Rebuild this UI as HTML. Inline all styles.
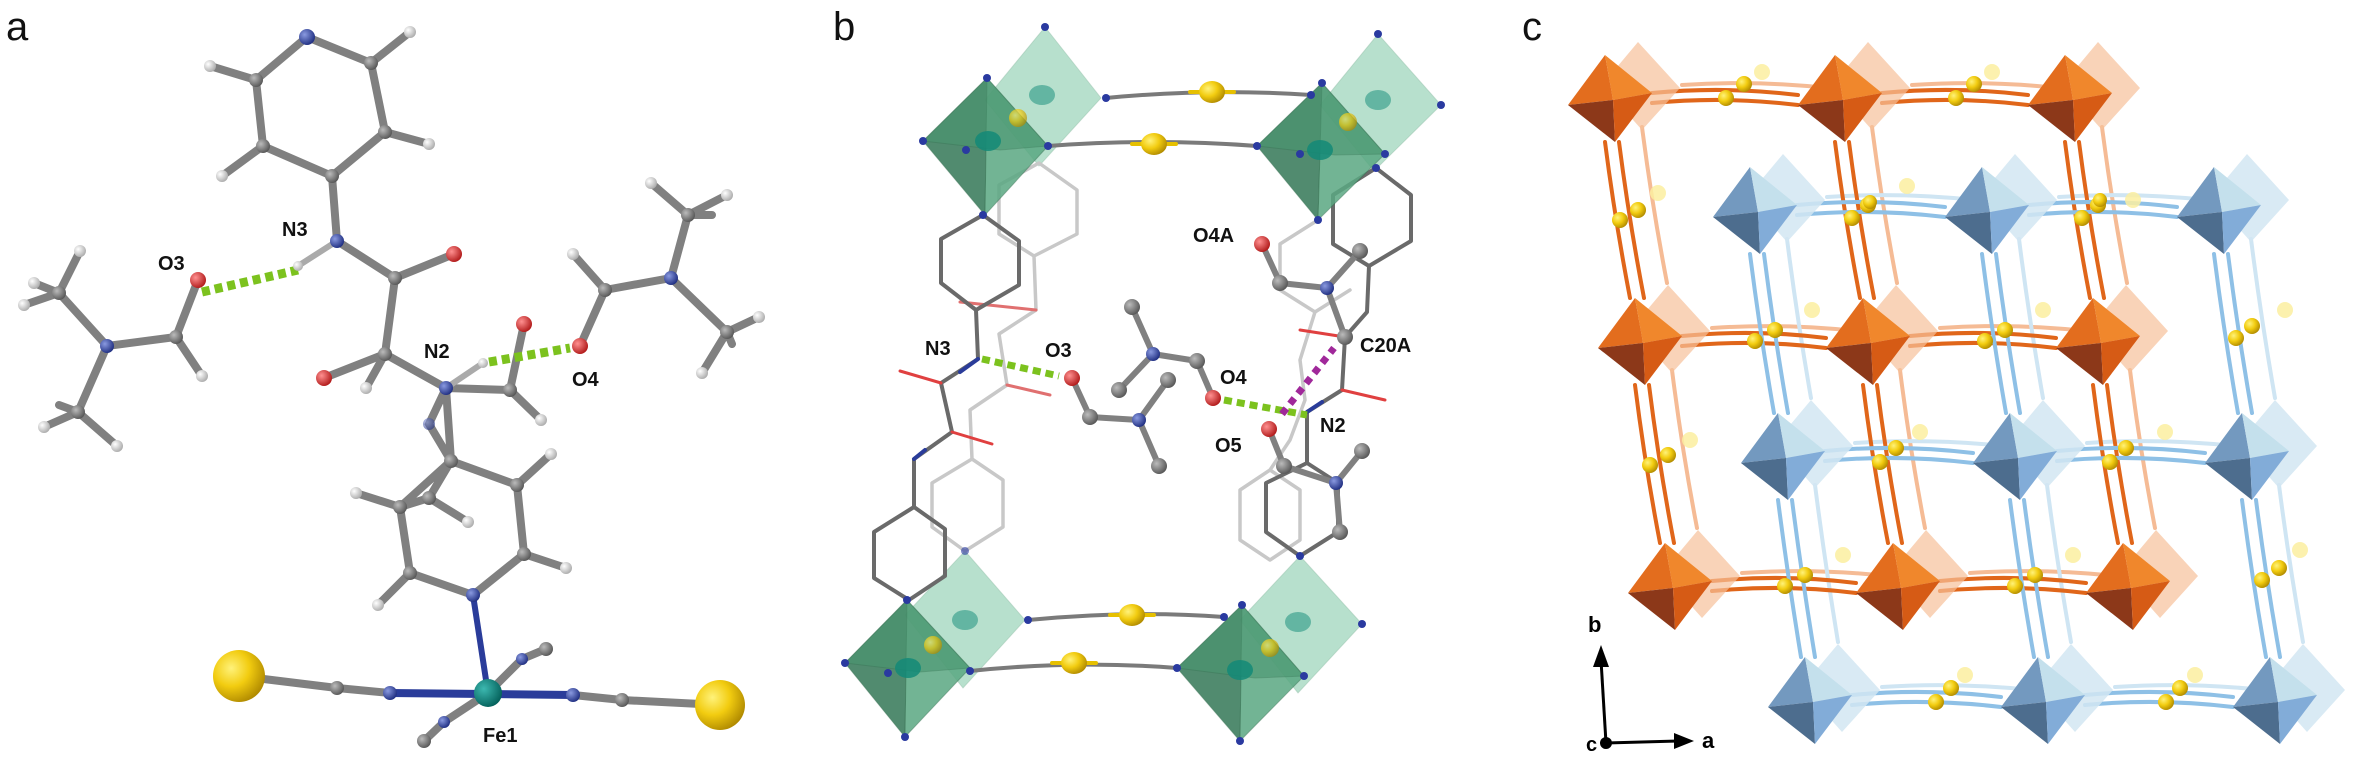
<!DOCTYPE html>
<html><head><meta charset="utf-8"><style>
html,body{margin:0;padding:0;background:#fff;}
svg{display:block;}
text{font-family:"Liberation Sans",sans-serif;}
.lbl{font-weight:bold;font-size:20px;fill:#111;}
.pl{font-size:40px;fill:#111;}
</style></head><body>
<svg width="2363" height="766" viewBox="0 0 2363 766" xmlns="http://www.w3.org/2000/svg">
<defs>
<radialGradient id="gS" cx="35%" cy="35%" r="70%"><stop offset="0" stop-color="#fff27a"/><stop offset="0.5" stop-color="#f2cc10"/><stop offset="1" stop-color="#b08a00"/></radialGradient>
<radialGradient id="gC" cx="35%" cy="35%" r="70%"><stop offset="0" stop-color="#bbb"/><stop offset="1" stop-color="#555"/></radialGradient>
<radialGradient id="gN" cx="35%" cy="35%" r="70%"><stop offset="0" stop-color="#8a9ae0"/><stop offset="1" stop-color="#1e2d80"/></radialGradient>
<radialGradient id="gO" cx="35%" cy="35%" r="70%"><stop offset="0" stop-color="#ff9090"/><stop offset="1" stop-color="#b01818"/></radialGradient>
<radialGradient id="gH" cx="35%" cy="35%" r="70%"><stop offset="0" stop-color="#fff"/><stop offset="1" stop-color="#aaa"/></radialGradient>
<radialGradient id="gFe" cx="35%" cy="35%" r="70%"><stop offset="0" stop-color="#3cb8b0"/><stop offset="1" stop-color="#04605a"/></radialGradient>
<g id="oo">
<polygon points="28,-58 70,-12 32,30 -8,-15" fill="#f6c09a" opacity="0.7"/>
<polygon points="-5,-45 -42,5 3,0" fill="#e36d1e"/>
<polygon points="-5,-45 3,0 42,-7" fill="#f0872c"/>
<polygon points="-42,5 5,42 3,0" fill="#8c3819"/>
<polygon points="3,0 5,42 42,-7" fill="#d65b15"/>
</g>
<g id="bo">
<polygon points="28,-58 70,-12 32,30 -8,-15" fill="#d2e6f2" opacity="0.85"/>
<polygon points="-5,-45 -42,5 3,0" fill="#7399bf"/>
<polygon points="-5,-45 3,0 42,-7" fill="#c4e0ec"/>
<polygon points="-42,5 5,42 3,0" fill="#4d6d8e"/>
<polygon points="3,0 5,42 42,-7" fill="#82acd8"/>
</g>
</defs>

<!-- ============ PANEL A ============ -->
<text class="pl" x="6" y="40">a</text>
<g stroke-linecap="round" fill="none">
<g stroke="#808080" stroke-width="8">
<path d="M307,37 L371,63 L385,132 L332,176 L263,146 L256,80 Z"/>
<path d="M371,63 L410,32 M385,132 L429,144 M263,146 L222,176 M256,80 L210,66"/>
<path d="M332,176 L337,241"/>
<path d="M337,241 L395,278 L454,254 M395,278 L385,354 L324,378 M385,354 L446,388"/>
<path d="M198,280 L176,337 L107,346 L59,293 M107,346 L78,412 M176,337 L202,376"/>
<path d="M59,293 L24,305 M59,293 L80,251 M59,293 L34,283 M78,412 L44,427 M78,412 L117,446 M78,412 L59,405"/>
<path d="M580,346 L605,290 L671,278 L688,215 M671,278 L727,332 M605,290 L573,254"/>
<path d="M688,215 L651,183 M688,215 L727,195 M688,215 L712,215 M727,332 L759,317 M727,332 L702,373 M727,332 L732,344"/>
<path d="M446,388 L510,390 L541,420 M510,390 L524,324 M446,388 L429,424 L451,461 M446,388 L451,461"/>
<path d="M451,461 L517,485 L524,554 L473,595 L410,573 L400,507 Z M451,461 L429,498 L400,507 M517,485 L551,454 M524,554 L566,568 M410,573 L378,605 M400,507 L356,493 M429,498 L468,522 M385,354 L366,388"/>
<path d="M239,676 L337,688 L390,693 M573,695 L622,700 L720,705 M488,693 L522,659 L546,649 M488,693 L444,722 L424,741"/>
</g>
<path d="M337,241 L298,266 M446,388 L483,363" stroke="#aaa" stroke-width="6"/>
<path d="M473,595 L488,693" stroke="#2a3c9a" stroke-width="6"/>
<path d="M390,693 L573,695" stroke="#2a3c9a" stroke-width="8"/>
<path d="M202,292 L298,270" stroke="#7cc21e" stroke-width="9" stroke-dasharray="8,5" stroke-linecap="butt"/>
<path d="M489,362 L570,348" stroke="#7cc21e" stroke-width="9" stroke-dasharray="8,5" stroke-linecap="butt"/>
</g>
<g>
<g fill="url(#gH)">
<circle cx="410" cy="32" r="6"/><circle cx="429" cy="144" r="6"/><circle cx="222" cy="176" r="6"/><circle cx="210" cy="66" r="6"/>
<circle cx="24" cy="305" r="6"/><circle cx="80" cy="251" r="6"/><circle cx="34" cy="283" r="6"/><circle cx="44" cy="427" r="6"/><circle cx="117" cy="446" r="6"/><circle cx="202" cy="376" r="6"/>
<circle cx="651" cy="183" r="6"/><circle cx="727" cy="195" r="6"/><circle cx="759" cy="317" r="6"/><circle cx="702" cy="373" r="6"/><circle cx="573" cy="254" r="6"/>
<circle cx="541" cy="420" r="6"/><circle cx="551" cy="454" r="6"/><circle cx="566" cy="568" r="6"/><circle cx="378" cy="605" r="6"/><circle cx="356" cy="493" r="6"/><circle cx="468" cy="522" r="6"/><circle cx="366" cy="388" r="6"/><circle cx="298" cy="266" r="5"/><circle cx="483" cy="363" r="5"/>
</g>
<g fill="url(#gC)">
<circle cx="371" cy="63" r="7"/><circle cx="385" cy="132" r="7"/><circle cx="332" cy="176" r="7"/><circle cx="263" cy="146" r="7"/><circle cx="256" cy="80" r="7"/>
<circle cx="395" cy="278" r="7"/><circle cx="385" cy="354" r="7"/><circle cx="176" cy="337" r="7"/><circle cx="59" cy="293" r="7"/><circle cx="78" cy="412" r="7"/>
<circle cx="605" cy="290" r="7"/><circle cx="688" cy="215" r="7"/><circle cx="727" cy="332" r="7"/><circle cx="510" cy="390" r="7"/>
<circle cx="451" cy="461" r="7"/><circle cx="517" cy="485" r="7"/><circle cx="524" cy="554" r="7"/><circle cx="410" cy="573" r="7"/><circle cx="400" cy="507" r="7"/><circle cx="429" cy="498" r="7"/>
<circle cx="337" cy="688" r="7"/><circle cx="622" cy="700" r="7"/><circle cx="546" cy="649" r="7"/><circle cx="424" cy="741" r="7"/>
</g>
<g fill="url(#gN)">
<circle cx="307" cy="37" r="8"/><circle cx="337" cy="241" r="7"/><circle cx="446" cy="388" r="7"/><circle cx="107" cy="346" r="7"/><circle cx="671" cy="278" r="7"/><circle cx="473" cy="595" r="7"/><circle cx="429" cy="424" r="6" opacity="0.6"/>
<circle cx="390" cy="693" r="7"/><circle cx="573" cy="695" r="7"/><circle cx="522" cy="659" r="6"/><circle cx="444" cy="722" r="6"/>
</g>
<g fill="url(#gO)">
<circle cx="198" cy="280" r="8"/><circle cx="454" cy="254" r="8"/><circle cx="324" cy="378" r="8"/><circle cx="580" cy="346" r="8"/><circle cx="524" cy="324" r="8"/>
</g>
<circle cx="488" cy="693" r="14" fill="url(#gFe)"/>
<circle cx="239" cy="676" r="26" fill="url(#gS)"/>
<circle cx="720" cy="705" r="25" fill="url(#gS)"/>
</g>
<text class="lbl" x="282" y="236">N3</text>
<text class="lbl" x="158" y="270">O3</text>
<text class="lbl" x="424" y="358">N2</text>
<text class="lbl" x="572" y="386">O4</text>
<text class="lbl" x="483" y="742">Fe1</text>

<!-- ============ PANEL B ============ -->
<text class="pl" x="833" y="40">b</text>
<g stroke="#5a9a7a" stroke-width="1" stroke-opacity="0.4">
<polygon points="1045,27 1101,98 1039,166 985,100" fill="#9ad4b8" opacity="0.7"/>
<polygon points="1378,34 1441,105 1374,171 1320,105" fill="#9ad4b8" opacity="0.7"/>
<polygon points="965,551 1025,620 963,688 905,615" fill="#9ad4b8" opacity="0.7"/>
<polygon points="1300,556 1362,624 1298,693 1240,620" fill="#9ad4b8" opacity="0.7"/>
</g>
<g fill="none" stroke-linecap="round" stroke-linejoin="round">
<g stroke="#c8c8c8" stroke-width="3.5">
<path d="M1039,163 L999,185 L999,234 L1034,256 L1077,234 L1077,190 Z M1034,256 L1036,310 L999,334 L1007,385 L970,410 L972,459 M972,459 L932,483 L932,527 L965,551 L1003,527 L1003,480 Z"/>
<path d="M1318,220 L1280,244 L1280,290 L1315,312 L1350,290 M1315,312 L1300,360 L1305,400 L1290,440 L1270,470 L1240,490 L1240,540 L1270,560 L1300,540 L1300,490 L1270,470"/>
</g>
<g stroke="#e07070" stroke-width="3"><path d="M1007,385 L1050,395 M1036,310 L960,302"/></g>
<g stroke="#6a6a6a" stroke-width="4">
<path d="M983,215 L941,239 L941,283 L976,310 L1019,285 L1019,241 Z M976,310 L978,359 L941,383 L952,432 L914,459 L914,507 M914,507 L874,532 L874,578 L909,600 L945,576 L945,529 Z"/>
<path d="M1376,168 L1333,195 L1333,244 L1369,266 L1411,241 L1411,195 Z M1369,266 L1367,312 L1345,337 L1342,390 L1307,412 L1307,463 M1307,463 L1266,483 L1266,532 L1300,556 L1338,532 L1338,483 Z"/>
</g>
<g stroke="#e04040" stroke-width="3"><path d="M941,383 L900,371 M952,432 L992,444 M1342,390 L1385,400 M1345,337 L1300,330"/></g>
<g stroke="#2a3c9a" stroke-width="4"><path d="M978,359 L960,372 M914,459 L925,450 M1307,412 L1322,402"/></g>
<g stroke="#7a7a7a" stroke-width="4">
<path d="M1106,98 Q1210,88 1311,95 M1048,146 Q1154,138 1257,146 M1028,620 Q1132,610 1224,617 M970,671 Q1074,660 1177,668"/>
</g>
<g stroke="#e6c000" stroke-width="4"><path d="M1190,92 L1234,92 M1132,144 L1176,144 M1110,615 L1154,615 M1052,663 L1096,663"/></g>
<g stroke="#808080" stroke-width="6">
<path d="M1132,307 L1153,354 L1197,361 L1213,398 M1153,354 L1119,390"/>
<path d="M1072,378 L1090,417 L1139,420 L1168,380 M1139,420 L1159,466"/>
<path d="M1262,244 L1280,283 L1327,288 L1360,251 M1327,288 L1345,337"/>
<path d="M1269,429 L1284,466 L1336,483 L1362,451 M1336,483 L1340,532"/>
</g>
</g>
<g fill="none" stroke-linecap="butt">
<path d="M982,359 L1059,376" stroke="#7cc21e" stroke-width="7" stroke-dasharray="8,5"/>
<path d="M1224,400 L1307,415" stroke="#7cc21e" stroke-width="7" stroke-dasharray="8,5"/>
<path d="M1282,414 L1334,348" stroke="#a0289a" stroke-width="7" stroke-dasharray="7,6"/>
</g>
<g stroke="#2e6a4a" stroke-width="1" stroke-opacity="0.5">
<polygon points="987,78 923,141 985,215" fill="#3f7f60" opacity="0.9"/><polygon points="987,78 1048,146 985,215" fill="#5aa882" opacity="0.85"/><polygon points="987,78 923,141 1000,150 1048,146" fill="#4a9670" opacity="0.6"/>
<polygon points="1322,83 1257,146 1318,220" fill="#3f7f60" opacity="0.9"/><polygon points="1322,83 1385,154 1318,220" fill="#5aa882" opacity="0.85"/><polygon points="1322,83 1257,146 1335,155 1385,154" fill="#4a9670" opacity="0.6"/>
<polygon points="907,600 845,663 905,737" fill="#3f7f60" opacity="0.9"/><polygon points="907,600 970,668 905,737" fill="#5aa882" opacity="0.85"/><polygon points="907,600 845,663 920,672 970,668" fill="#4a9670" opacity="0.6"/>
<polygon points="1242,605 1177,668 1240,741" fill="#3f7f60" opacity="0.9"/><polygon points="1242,605 1304,676 1240,741" fill="#5aa882" opacity="0.85"/><polygon points="1242,605 1177,668 1255,678 1304,676" fill="#4a9670" opacity="0.6"/>
</g>
<g fill="#138a78" opacity="0.85">
<ellipse cx="988" cy="141" rx="13" ry="10"/><ellipse cx="1042" cy="95" rx="13" ry="10" opacity="0.6"/><ellipse cx="1320" cy="150" rx="13" ry="10"/><ellipse cx="1378" cy="100" rx="13" ry="10" opacity="0.6"/>
<ellipse cx="908" cy="668" rx="13" ry="10"/><ellipse cx="965" cy="620" rx="13" ry="10" opacity="0.6"/><ellipse cx="1240" cy="670" rx="13" ry="10"/><ellipse cx="1298" cy="622" rx="13" ry="10" opacity="0.6"/>
</g>
<g fill="url(#gS)">
<ellipse cx="1212" cy="92" rx="13" ry="11"/><ellipse cx="1154" cy="144" rx="13" ry="11"/><ellipse cx="1132" cy="615" rx="13" ry="11"/><ellipse cx="1074" cy="663" rx="13" ry="11"/>
<circle cx="1018" cy="118" r="9" opacity="0.7"/><circle cx="1348" cy="122" r="9" opacity="0.7"/><circle cx="933" cy="645" r="9" opacity="0.7"/><circle cx="1270" cy="648" r="9" opacity="0.7"/>
</g>
<g fill="#2a3aa0">
<circle cx="1045" cy="27" r="4"/><circle cx="1378" cy="34" r="4"/><circle cx="987" cy="78" r="4"/><circle cx="1322" cy="83" r="4"/><circle cx="923" cy="141" r="4"/><circle cx="966" cy="150" r="4"/><circle cx="1106" cy="98" r="4"/><circle cx="1048" cy="146" r="4"/><circle cx="983" cy="215" r="4"/>
<circle cx="1311" cy="95" r="4"/><circle cx="1257" cy="146" r="4"/><circle cx="1441" cy="105" r="4"/><circle cx="1300" cy="154" r="4"/><circle cx="1385" cy="154" r="4"/><circle cx="1318" cy="220" r="4"/><circle cx="1376" cy="168" r="4"/>
<circle cx="1028" cy="620" r="4"/><circle cx="970" cy="671" r="4"/><circle cx="845" cy="663" r="4"/><circle cx="905" cy="737" r="4"/><circle cx="888" cy="673" r="4"/><circle cx="907" cy="600" r="4"/><circle cx="965" cy="551" r="4" opacity="0.6"/>
<circle cx="1224" cy="617" r="4"/><circle cx="1177" cy="668" r="4"/><circle cx="1362" cy="624" r="4"/><circle cx="1240" cy="741" r="4"/><circle cx="1304" cy="676" r="4"/><circle cx="1242" cy="605" r="4"/><circle cx="1300" cy="556" r="4"/>
</g>
<g fill="url(#gC)">
<circle cx="1132" cy="307" r="8"/><circle cx="1197" cy="361" r="8"/><circle cx="1119" cy="390" r="8"/><circle cx="1090" cy="417" r="8"/><circle cx="1168" cy="380" r="8"/><circle cx="1159" cy="466" r="8"/>
<circle cx="1280" cy="283" r="8"/><circle cx="1360" cy="251" r="8"/><circle cx="1345" cy="337" r="8"/><circle cx="1284" cy="466" r="8"/><circle cx="1362" cy="451" r="8"/><circle cx="1340" cy="532" r="8"/>
</g>
<g fill="url(#gN)"><circle cx="1153" cy="354" r="7"/><circle cx="1139" cy="420" r="7"/><circle cx="1327" cy="288" r="7"/><circle cx="1336" cy="483" r="7"/></g>
<g fill="url(#gO)"><circle cx="1213" cy="398" r="8"/><circle cx="1072" cy="378" r="8"/><circle cx="1262" cy="244" r="8"/><circle cx="1269" cy="429" r="8"/></g>
<text class="lbl" x="925" y="355">N3</text>
<text class="lbl" x="1045" y="357">O3</text>
<text class="lbl" x="1193" y="242">O4A</text>
<text class="lbl" x="1360" y="352">C20A</text>
<text class="lbl" x="1220" y="384">O4</text>
<text class="lbl" x="1320" y="432">N2</text>
<text class="lbl" x="1215" y="452">O5</text>

<!-- ============ PANEL C ============ -->
<text class="pl" x="1522" y="40">c</text>
<g fill="none" stroke-linecap="round">
<g stroke="#f5bb95" stroke-width="4">
<path d="M1682,85 Q1755,80 1828,88 M1912,85 Q1985,80 2058,88 M1712,328 Q1785,323 1856,331 M1940,328 Q2013,323 2086,331 M1742,573 Q1815,568 1886,576 M1970,573 Q2043,568 2116,576"/>
<path d="M1642,127 Q1652,205 1667,283 M1872,127 Q1882,205 1897,283 M2102,127 Q2112,205 2127,283 M1672,370 Q1682,450 1697,528 M1900,370 Q1910,450 1925,528 M2130,370 Q2140,450 2155,528"/>
</g>
<g stroke="#cfe5f3" stroke-width="4">
<path d="M1827,197 Q1900,192 1975,200 M2059,197 Q2132,192 2207,200 M1855,443 Q1928,438 2003,446 M2087,443 Q2160,438 2235,446 M1882,687 Q1955,682 2031,690 M2115,687 Q2188,682 2263,690"/>
<path d="M1787,239 Q1797,318 1811,398 M2019,239 Q2029,318 2043,398 M2251,239 Q2261,318 2275,398 M1815,485 Q1825,563 1838,642 M2047,485 Q2057,563 2071,642 M2279,485 Q2289,563 2303,642"/>
</g>
<g stroke="#e0661a" stroke-width="4">
<path d="M1652,93 Q1725,86 1798,95 M1652,103 Q1725,96 1798,105 M1882,93 Q1955,86 2028,95 M1882,103 Q1955,96 2028,105"/>
<path d="M1682,336 Q1755,329 1826,338 M1682,346 Q1755,339 1826,348 M1910,336 Q1983,329 2056,338 M1910,346 Q1983,339 2056,348"/>
<path d="M1712,581 Q1785,574 1856,583 M1712,591 Q1785,584 1856,593 M1940,581 Q2013,574 2086,583 M1940,591 Q2013,584 2086,593"/>
<path d="M1605,142 Q1615,220 1630,298 M1619,142 Q1629,220 1644,298 M1835,142 Q1845,220 1860,298 M1849,142 Q1859,220 1874,298 M2065,142 Q2075,220 2090,298 M2079,142 Q2089,220 2104,298"/>
<path d="M1635,385 Q1645,465 1660,543 M1649,385 Q1659,465 1674,543 M1863,385 Q1873,465 1888,543 M1877,385 Q1887,465 1902,543 M2093,385 Q2103,465 2118,543 M2107,385 Q2117,465 2132,543"/>
</g>
<g stroke="#8ec0e6" stroke-width="4">
<path d="M1797,205 Q1870,198 1945,207 M1797,215 Q1870,208 1945,217 M2029,205 Q2102,198 2177,207 M2029,215 Q2102,208 2177,217"/>
<path d="M1825,451 Q1898,444 1973,453 M1825,461 Q1898,454 1973,463 M2057,451 Q2130,444 2205,453 M2057,461 Q2130,454 2205,463"/>
<path d="M1852,695 Q1925,688 2001,697 M1852,705 Q1925,698 2001,707 M2085,695 Q2158,688 2233,697 M2085,705 Q2158,698 2233,707"/>
<path d="M1750,254 Q1760,333 1774,413 M1764,254 Q1774,333 1788,413 M1982,254 Q1992,333 2006,413 M1996,254 Q2006,333 2020,413 M2214,254 Q2224,333 2238,413 M2228,254 Q2238,333 2252,413"/>
<path d="M1778,500 Q1788,578 1801,657 M1792,500 Q1802,578 1815,657 M2010,500 Q2020,578 2034,657 M2024,500 Q2034,578 2048,657 M2242,500 Q2252,578 2266,657 M2256,500 Q2266,578 2280,657"/>
</g>
</g>
<use href="#oo" x="1610" y="100"/><use href="#oo" x="1840" y="100"/><use href="#oo" x="2070" y="100"/>
<use href="#oo" x="1640" y="343"/><use href="#oo" x="1868" y="343"/><use href="#oo" x="2098" y="343"/>
<use href="#oo" x="1670" y="588"/><use href="#oo" x="1898" y="588"/><use href="#oo" x="2128" y="588"/>
<use href="#bo" x="1755" y="212"/><use href="#bo" x="1987" y="212"/><use href="#bo" x="2219" y="212"/>
<use href="#bo" x="1783" y="458"/><use href="#bo" x="2015" y="458"/><use href="#bo" x="2247" y="458"/>
<use href="#bo" x="1810" y="702"/><use href="#bo" x="2043" y="702"/><use href="#bo" x="2275" y="702"/>
<g fill="#fbeea0" opacity="0.85">
<circle cx="1762" cy="72" r="8"/><circle cx="1992" cy="72" r="8"/><circle cx="1658" cy="193" r="8"/><circle cx="1907" cy="186" r="8"/><circle cx="1812" cy="310" r="8"/><circle cx="2043" cy="310" r="8"/><circle cx="2285" cy="310" r="8"/><circle cx="1690" cy="440" r="8"/><circle cx="1920" cy="432" r="8"/><circle cx="2165" cy="432" r="8"/><circle cx="1843" cy="555" r="8"/><circle cx="2073" cy="555" r="8"/><circle cx="2300" cy="550" r="8"/><circle cx="1965" cy="675" r="8"/><circle cx="2195" cy="675" r="8"/><circle cx="2133" cy="200" r="8"/>
</g>
<g fill="url(#gS)">
<circle cx="1726" cy="98" r="8"/><circle cx="1744" cy="84" r="8"/><circle cx="1956" cy="98" r="8"/><circle cx="1974" cy="84" r="8"/>
<circle cx="1620" cy="220" r="8"/><circle cx="1638" cy="210" r="8"/><circle cx="1650" cy="465" r="8"/><circle cx="1668" cy="455" r="8"/>
<circle cx="1755" cy="341" r="8"/><circle cx="1775" cy="330" r="8"/><circle cx="1985" cy="341" r="8"/><circle cx="2005" cy="330" r="8"/>
<circle cx="1785" cy="586" r="8"/><circle cx="1805" cy="575" r="8"/><circle cx="2015" cy="586" r="8"/><circle cx="2035" cy="575" r="8"/>
<circle cx="1852" cy="218" r="8"/><circle cx="1868" cy="205" r="8"/><circle cx="2082" cy="218" r="8"/><circle cx="2098" cy="205" r="8"/>
<circle cx="1880" cy="462" r="8"/><circle cx="1896" cy="448" r="8"/><circle cx="2110" cy="462" r="8"/><circle cx="2126" cy="448" r="8"/>
<circle cx="1870" cy="202" r="7"/><circle cx="2100" cy="200" r="7"/>
<circle cx="2236" cy="338" r="8"/><circle cx="2252" cy="326" r="8"/><circle cx="2262" cy="580" r="8"/><circle cx="2279" cy="568" r="8"/>
<circle cx="1936" cy="702" r="8"/><circle cx="1951" cy="688" r="8"/><circle cx="2166" cy="702" r="8"/><circle cx="2180" cy="688" r="8"/>
</g>
<g stroke="#000" stroke-width="3" fill="#000">
<line x1="1606" y1="743" x2="1601" y2="660"/><polygon points="1601,645 1593,667 1609,667" stroke="none"/>
<line x1="1606" y1="743" x2="1678" y2="741"/><polygon points="1694,741 1674,733 1674,749" stroke="none"/>
<circle cx="1606" cy="743" r="6" stroke="none"/>
</g>
<text x="1588" y="632" style="font-weight:bold;font-size:22px">b</text>
<text x="1702" y="748" style="font-weight:bold;font-size:22px">a</text>
<text x="1586" y="751" style="font-weight:bold;font-size:20px">c</text>
</svg>
</body></html>
